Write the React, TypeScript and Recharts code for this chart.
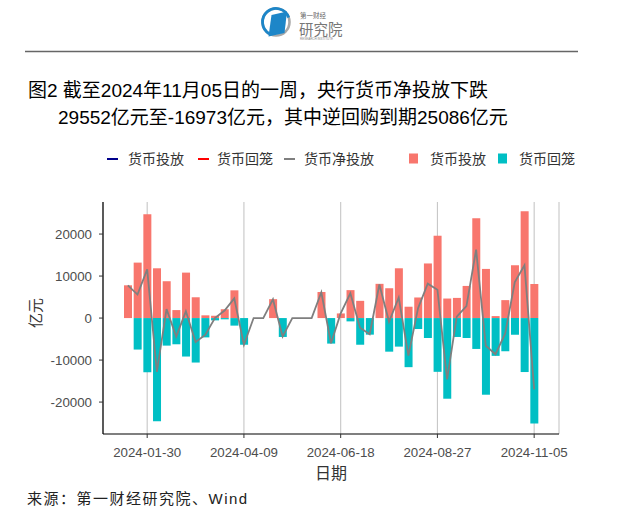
import { ComposedChart, Bar, Line, XAxis, YAxis, CartesianGrid } from 'recharts';

const weeks = [
  '2024-01-16', '2024-01-23', '2024-01-30', '2024-02-06', '2024-02-13', '2024-02-20', '2024-02-27',
  '2024-03-05', '2024-03-12', '2024-03-19', '2024-03-26', '2024-04-02', '2024-04-09', '2024-04-16',
  '2024-04-23', '2024-04-30', '2024-05-07', '2024-05-14', '2024-05-21', '2024-05-28', '2024-06-04',
  '2024-06-11', '2024-06-18', '2024-06-25', '2024-07-02', '2024-07-09', '2024-07-16', '2024-07-23',
  '2024-07-30', '2024-08-06', '2024-08-13', '2024-08-20', '2024-08-27', '2024-09-03', '2024-09-10',
  '2024-09-17', '2024-09-24', '2024-10-01', '2024-10-08', '2024-10-15', '2024-10-22', '2024-10-29',
  '2024-11-05',
];

// 货币投放 (亿元)
const injection = [
  7800, 13200, 24700, 11850, 8770, 1900, 10820, 4950, 650, 550,
  2100, 6600, 0, 0, 0, 4500, 0, 0, 0, 0,
  6200, 0, 1100, 6650, 4100, 0, 8150, 7100, 11850, 2700,
  4900, 13000, 19600, 4650, 4800, 7650, 23750, 11700, 470, 4270,
  12550, 25400, 8113,
];

// 货币回笼 (亿元)
const withdrawal = [
  0, -7500, -12900, -24570, -6560, -6240, -9160, -10590, -4600, -550,
  -300, -1800, -6350, 0, 0, 0, -4500, 0, 0, 0,
  0, -6080, 0, -790, -6350, -3950, 0, -8000, -6800, -11690,
  -2600, -4740, -12800, -19200, -4500, -4740, -7350, -18250, -9000, -7900,
  -3950, -12850, -25086,
];

// 货币净投放 (亿元)
const netInjection = [
  7800, 5600, 11600, -12800, 2150, -4400, 1600, -5700, -4000, 0,
  1800, 4700, -6350, 0, 0, 4450, -4400, 0, 0, 0,
  6150, -6000, 1100, 5900, -2300, -3850, 8000, -900, 4900, -8950,
  2350, 8200, 6750, -14600, 350, 2850, 16300, -6600, -8600, -3700,
  8550, 12579, -16973,
];

const dateTicks = ['2024-01-30', '2024-04-09', '2024-06-18', '2024-08-27', '2024-11-05'];
const valueTicks = [-20000, -10000, 0, 10000, 20000];

const FONT = "'Liberation Sans', Arial, 'Noto Sans CJK SC', sans-serif";
const SALMON = '#F8766D';
const TEAL = '#00BFC4';
const NET_GRAY = '#7F7F7F';

const data = weeks.map((date, i) => ({
  date,
  injection: injection[i],
  withdrawal: withdrawal[i],
  net: netInjection[i],
}));

const YAxisTitle = ({ viewBox }: any) => {
  const cx = (viewBox?.x ?? 0) + 35;
  const cy = (viewBox?.y ?? 0) + (viewBox?.height ?? 0) / 2 - 5;
  return (
    <text
      x={cx}
      y={cy}
      transform={`rotate(-90 ${cx} ${cy})`}
      textAnchor="middle"
      dominantBaseline="central"
      fontSize={15}
      fontFamily={FONT}
      fill="#333"
    >
      亿元
    </text>
  );
};

function Header() {
  return (
    <svg width={640} height={516} style={{ position: 'absolute', left: 0, top: 0 }}>
      {/* logo */}
      <circle cx={276} cy={22} r={13.5} fill="none" stroke="#A9A9A9" strokeWidth={2.6} />
      <path d="M 269.25 33.7 A 13.5 13.5 0 1 1 288.7 17.4" fill="none" stroke="#1D86C8" strokeWidth={2.8} />
      <polygon points="271.5,15 287,11.5 284.5,33 268.5,36.5" fill="#1D86C8" />
      <text x={300} y={18} fontSize={6.5} fill="#666" fontFamily={FONT}>第一财经</text>
      <text x={299} y={35} fontSize={14.5} fill="#777" fontFamily={FONT}>研究院</text>
      <text x={300} y={39.5} fontSize={3} fill="#888" fontFamily={FONT}>RESEARCH INSTITUTE</text>
      <line x1={25} x2={578} y1={51.5} y2={51.5} stroke="#666" strokeWidth={1.6} />

      {/* title */}
      <text x={28} y={90} dominantBaseline="central" fontSize={19} fill="#000" fontFamily={FONT}>
        图2 截至2024年11月05日的一周，央行货币净投放下跌
      </text>
      <text x={58} y={117} dominantBaseline="central" fontSize={19} fill="#000" fontFamily={FONT}>
        29552亿元至-16973亿元，其中逆回购到期25086亿元
      </text>

      {/* legend */}
      <g fontSize={14} fill="#333" fontFamily={FONT}>
        <line x1={107} x2={118} y1={159} y2={159} stroke="#00008B" strokeWidth={2} />
        <text x={128} y={159} dominantBaseline="central">货币投放</text>
        <line x1={198} x2={209} y1={159} y2={159} stroke="#FF0000" strokeWidth={2} />
        <text x={217} y={159} dominantBaseline="central">货币回笼</text>
        <line x1={284} x2={295} y1={159} y2={159} stroke={NET_GRAY} strokeWidth={2} />
        <text x={304} y={159} dominantBaseline="central">货币净投放</text>
        <rect x={409} y={153.5} width={9} height={10} fill={SALMON} />
        <text x={430} y={159} dominantBaseline="central">货币投放</text>
        <rect x={498} y={153.5} width={9} height={10} fill={TEAL} />
        <text x={519} y={159} dominantBaseline="central">货币回笼</text>
      </g>

      {/* source */}
      <text x={27} y={498} dominantBaseline="central" fontSize={15} letterSpacing={1.5} fill="#222" fontFamily={FONT}>
        来源：第一财经研究院、Wind
      </text>
    </svg>
  );
}

export default function App() {
  return (
    <div style={{ position: 'absolute', left: 0, top: 0, width: 640, height: 516, background: '#fff' }}>
      <Header />
      <div style={{ position: 'absolute', left: 0, top: 190 }}>
        <ComposedChart
          width={600}
          height={300}
          data={data}
          stackOffset="sign"
          barCategoryGap={1}
          margin={{ top: 12, right: 41, bottom: 0, left: 0 }}
        >
          <CartesianGrid horizontal={false} vertical stroke="#C6C6C6" strokeWidth={1.1} />
          <XAxis
            dataKey="date"
            ticks={dateTicks}
            interval={0}
            padding={{ left: 20, right: 20 }}
            height={56}
            axisLine={{ stroke: '#000', strokeWidth: 1.2 }}
            tickLine={{ stroke: '#333' }}
            tickSize={4}
            tickMargin={10}
            tick={{ fill: '#4D4D4D', fontSize: 13.3, fontFamily: FONT }}
            label={{ value: '日期', position: 'insideBottom', offset: 11, fontSize: 16, fill: '#333', fontFamily: FONT }}
          />
          <YAxis
            type="number"
            domain={[-27600, 27630]}
            ticks={valueTicks}
            width={103}
            axisLine={{ stroke: '#000', strokeWidth: 1.2 }}
            tickLine={{ stroke: '#333' }}
            tickSize={4}
            tickMargin={7}
            tick={{ fill: '#4D4D4D', fontSize: 13.3, fontFamily: FONT }}
            label={<YAxisTitle />}
          />
          <Bar dataKey="injection" stackId="flow" fill={SALMON} isAnimationActive={false} />
          <Bar dataKey="withdrawal" stackId="flow" fill={TEAL} isAnimationActive={false} />
          <Line
            type="linear"
            dataKey="net"
            stroke={NET_GRAY}
            strokeWidth={1.8}
            dot={false}
            activeDot={false}
            isAnimationActive={false}
          />
        </ComposedChart>
      </div>
    </div>
  );
}
